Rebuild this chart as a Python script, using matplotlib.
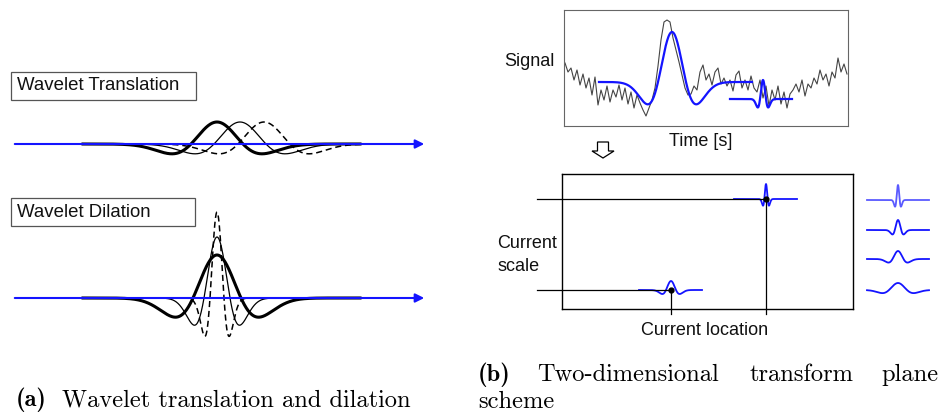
import numpy as np
import matplotlib.pyplot as plt
from matplotlib.patches import Rectangle, FancyArrow

# wavelet translation: shifts of one mother wavelet (width, height)
trans_shift = [0, 23, 47]
trans_width = 26
trans_amp = 22

# wavelet dilation: widths and heights
dil_width = [24, 13, 7]
dil_amp = [43, 61, 86]

# noisy signal samples (every 3 time units)
signal = [19, 10, 14, 2, 12, -3, 8, -6, 4, -13, 5, -23, -8, -18, -4, -20,
          -8, -15, -3, -18, -6, -22, -10, -26, -13, -21, -28, -34, -26, -18,
          -6, 16, 42, 60, 62, 60, 44, 32, 20, 7, -6, -13, -12, -4, -8, 10,
          17, 2, 8, -3, 10, 14, -2, 4, -4, 2, -9, 7, 11, -6, 2, -8, 6, -6,
          -10, 2, -16, -4, -24, -8, -18, -4, -22, -10, -26, -12, -8, -2, -10,
          2, -14, -2, -6, 4, -2, 12, 2, 8, -4, 10, 4, 24, 10, 18, 8]

# wavelets fitted on the signal
fit_center = [108, 199]
fit_width = [14, 3]
fit_amp = [50, 19]
fit_level = [0, -17]
fit_span = [(35, 188), (166, 228)]

# transform plane: location / scale row of the two matches
plane_loc = [204, 109]
plane_row = [25, 116]
plane_width = [1.7, 5]
plane_amp = [15, 9]

# scale bank on the right
bank_row = [26, 56, 85, 116]
bank_width = [1.7, 3.2, 5.5, 9]
bank_amp = [15, 10, 8, 7]

BLUE = '#1414ff'
W, H = 947, 415
fig = plt.figure(figsize=(W / 100, H / 100), dpi=100)


def pax(x0, y0, x1, y1, frame=False):
    a = fig.add_axes([x0 / W, 1 - y1 / H, (x1 - x0) / W, (y1 - y0) / H])
    a.patch.set_alpha(0)
    if frame:
        a.set_xticks([])
        a.set_yticks([])
    else:
        a.set_axis_off()
    return a


def ricker(t, s):
    return (1 - (t / s) ** 2) * np.exp(-t ** 2 / (2 * s ** 2))


sans = dict(family='Liberation Sans', fontsize=13, color='#111111')
boxfont = dict(sans, fontsize=13.4)

bg = pax(0, 0, W, H)
bg.set_xlim(0, W)
bg.set_ylim(H, 0)

# ---- (a) translation ----
bg.add_patch(Rectangle((11, 72), 185, 28, fill=False, ec='#555555', lw=0.9))
bg.text(17, 86, 'Wavelet Translation', va='center', **boxfont)
bg.add_patch(Rectangle((11, 198), 184, 28, fill=False, ec='#555555', lw=0.9))
bg.text(17, 212, 'Wavelet Dilation', va='center', **boxfont)

t = np.linspace(83, 360, 800)
ax_tr = pax(0, 100, 440, 185)
ax_tr.set_xlim(0, 440)
ax_tr.set_ylim(-41, 44)
styles = [dict(lw=2.2, ls='-'), dict(lw=0.9, ls='-'), dict(lw=1.1, ls=(0, (4, 2.5)))]
for sh, st in zip(trans_shift, styles):
    ax_tr.plot(t, trans_amp * ricker(t - 217 - sh, trans_width), color='black', **st)
ax_tr.annotate('', xy=(427, 0), xytext=(12, 0),
               arrowprops=dict(arrowstyle='-|>', color=BLUE, lw=1.5, mutation_scale=13))

ax_dl = pax(0, 195, 440, 345)
ax_dl.set_xlim(0, 440)
ax_dl.set_ylim(-47, 103)
for w, a, st in zip(dil_width, dil_amp, styles):
    ax_dl.plot(t, a * ricker(t - 217, w), color='black', **st)
ax_dl.annotate('', xy=(427, 0), xytext=(12, 0),
               arrowprops=dict(arrowstyle='-|>', color=BLUE, lw=1.5, mutation_scale=13))

# ---- (b) signal ----
ax_sig = pax(564, 10, 848, 126, frame=True)
ax_sig.set_xlim(0, 284)
ax_sig.set_ylim(-44, 72)
for sp in ax_sig.spines.values():
    sp.set_color('#666666')
xs = 1 + 3 * np.arange(len(signal))
ax_sig.plot(xs, signal, color='#444444', lw=0.8)
for c, w, a, lv, (s0, s1) in zip(fit_center, fit_width, fit_amp, fit_level, fit_span):
    tt = np.linspace(s0, s1, 400)
    ax_sig.plot(tt, lv + a * ricker(tt - c, w), color=BLUE, lw=1.6)

bg.text(504, 62, 'Signal', va='center', **sans)
bg.text(701, 141, 'Time [s]', va='center', ha='center', **sans)
bg.add_patch(FancyArrow(603, 142, 0, 16, width=11, head_width=22, head_length=7,
                        length_includes_head=True, fc='white', ec='black', lw=0.9))

# ---- (b) transform plane ----
ax_pl = pax(562, 174, 853, 309, frame=True)
ax_pl.set_xlim(0, 291)
ax_pl.set_ylim(135, 0)
for sp in ax_pl.spines.values():
    sp.set_color('black')
    sp.set_linewidth(1.0)
for loc, row, w, a in zip(plane_loc, plane_row, plane_width, plane_amp):
    tt = np.linspace(loc - 32, loc + 31, 400)
    ax_pl.plot(tt, row - a * ricker(tt - loc, w), color=BLUE, lw=1.3)
    ax_pl.plot([-25, loc], [row, row], color='black', lw=0.9, clip_on=False)
    ax_pl.plot([loc, loc], [row, 140], color='black', lw=0.9, clip_on=False)
    ax_pl.plot(loc, row, 'o', color='black', ms=3.5, clip_on=False)

ax_bk = pax(860, 174, 940, 309)
ax_bk.set_xlim(0, 80)
ax_bk.set_ylim(135, 0)
for i, (row, w, a) in enumerate(zip(bank_row, bank_width, bank_amp)):
    tt = np.linspace(7, 69, 400)
    ax_bk.plot(tt, row - a * ricker(tt - 38, w), color='#5a5aff' if i == 0 else BLUE, lw=1.3)

bg.text(497, 243, 'Current', va='center', **sans)
bg.text(497, 266, 'scale', va='center', **sans)
bg.text(705, 330, 'Current location', va='center', ha='center', **sans)

# ---- captions ----
cap = dict(family=['cmr10', 'DejaVu Serif'], fontsize=17.6, color='black', va='center')
capb = dict(cap, family=['cmb10', 'DejaVu Serif'])
bg.text(16, 400, '(a)', **capb)
bg.text(62, 400, 'Wavelet translation and dilation', **cap)
bg.text(478, 375, '(b)', **capb)
bg.text(537, 375, 'Two-dimensional', **cap)
bg.text(750, 375, 'transform', **cap)
bg.text(939, 375, 'plane', ha='right', **cap)
bg.text(478, 402, 'scheme', **cap)

fig.savefig('out.png', dpi=100)
